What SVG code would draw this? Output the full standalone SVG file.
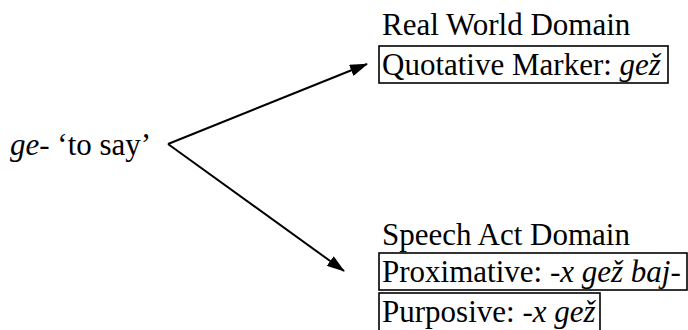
<svg xmlns="http://www.w3.org/2000/svg" width="688" height="330" viewBox="0 0 688 330">
<style>
text{font-family:"Liberation Serif","Times New Roman",serif;font-size:31px;fill:#000}
.i{font-style:italic}
.box{fill:none;stroke:#000;stroke-width:1.6}
.edge{fill:none;stroke:#000;stroke-width:2}
</style>
<defs>
<marker id="ah" markerWidth="9" markerHeight="6" refX="8.5" refY="3" orient="auto" markerUnits="strokeWidth">
<path d="M0,0 L9,3 L0,6 Z" fill="#000"/>
</marker>
</defs>
<rect width="688" height="330" fill="#fff"/>
<g id="source">
<text x="10" y="155"><tspan class="i">ge</tspan>- ‘to say’</text>
</g>
<g id="real-world">
<text x="382" y="35">Real World Domain</text>
<rect class="box" x="379" y="46" width="289" height="37"/>
<text x="382" y="75">Quotative Marker: <tspan class="i">gež</tspan></text>
</g>
<g id="speech-act">
<text x="382" y="245">Speech Act Domain</text>
<rect class="box" x="379" y="253" width="308" height="37"/>
<text x="382" y="282">Proximative: <tspan class="i">-x gež baj-</tspan></text>
<rect class="box" x="379" y="293" width="221" height="40"/>
<text x="382" y="322">Purposive: <tspan class="i">-x gež</tspan></text>
</g>
<g id="connectors">
<line class="edge" x1="168" y1="144" x2="367" y2="64" marker-end="url(#ah)"/>
<line class="edge" x1="168" y1="144" x2="344" y2="271" marker-end="url(#ah)"/>
</g>
</svg>
